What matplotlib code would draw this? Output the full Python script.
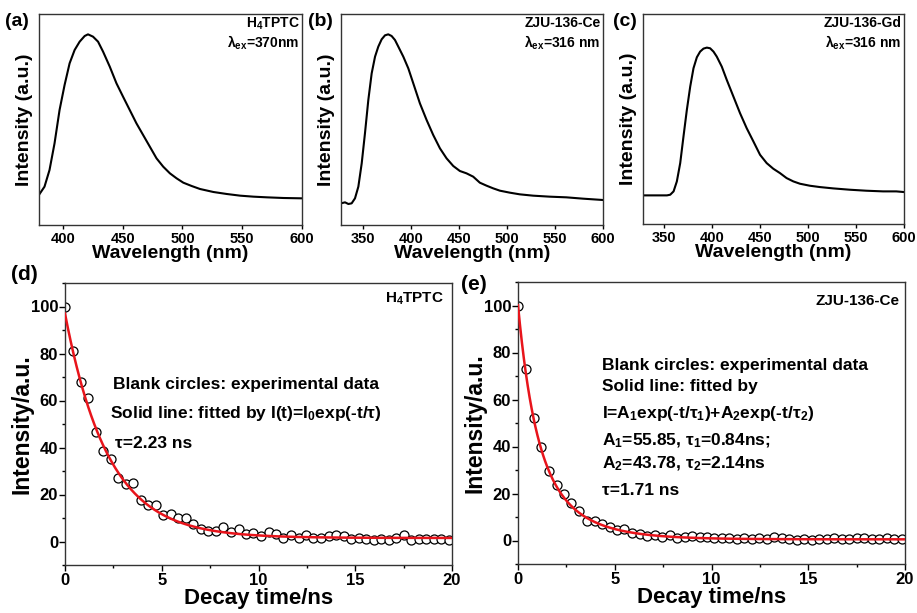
import numpy as np
import matplotlib
matplotlib.use("Agg")
import matplotlib.pyplot as plt
from matplotlib.ticker import MultipleLocator

plt.rcParams['font.family'] = ['Liberation Sans', 'DejaVu Sans']
plt.rcParams['font.weight'] = 'bold'
plt.rcParams['mathtext.fontset'] = 'custom'
plt.rcParams['mathtext.rm'] = 'Liberation Sans:bold'
plt.rcParams['mathtext.it'] = 'Liberation Sans:bold'
plt.rcParams['mathtext.bf'] = 'Liberation Sans:bold'

# ---------------- data ----------------
# (a) H4TPTC emission
wl_a = [379.9, 384.6, 388.8, 393.0, 397.2, 401.4, 405.6, 409.8, 414.0, 418.2, 421.0, 425.2,
        429.4, 433.6, 439.2, 444.8, 450.3, 455.9, 461.5, 467.1, 472.7, 478.3, 483.9, 489.5,
        495.1, 500.7, 507.7, 514.7, 525.9, 537.1, 548.3, 559.4, 570.6, 584.6, 600.0]
int_a = [90, 115, 165, 245, 345, 420, 485, 525, 550, 567, 572, 565, 550, 520, 475, 425, 385,
         345, 305, 270, 235, 200, 175, 155, 140, 127, 117, 108, 99, 93, 88, 85, 83, 81, 80]

# (b) ZJU-136-Ce emission
wl_b = [326.7, 330.9, 334.4, 337.8, 341.3, 344.8, 348.3, 351.7, 355.2, 358.7, 362.2, 365.6,
        369.1, 372.6, 376.0, 379.5, 383.0, 386.5, 391.7, 396.9, 402.1, 409.0, 416.0, 422.9,
        429.9, 436.8, 443.8, 450.7, 457.6, 464.6, 471.5, 478.5, 485.4, 492.4, 502.8, 513.2,
        527.1, 544.4, 561.8, 579.2, 600.0]
int_b = [65, 68, 63, 65, 80, 115, 185, 275, 375, 455, 505, 535, 557, 569, 572, 567, 555, 535,
         505, 470, 425, 365, 315, 270, 230, 200, 177, 162, 155, 145, 127, 118, 110, 103, 97,
         92, 88, 85, 83, 79, 75]

# (c) ZJU-136-Gd emission
wl_c = [328.6, 353.5, 356.9, 360.4, 363.8, 367.3, 370.7, 374.2, 377.7, 381.1, 384.6, 388.0,
        391.5, 395.0, 398.4, 401.9, 405.3, 410.5, 415.7, 422.6, 429.5, 436.4, 443.4, 450.3,
        457.2, 464.1, 471.0, 477.9, 484.9, 491.8, 502.1, 512.5, 526.3, 543.6, 560.9, 578.2,
        592.0, 600.0]
int_c = [86, 86, 88, 98, 128, 183, 263, 343, 413, 468, 501, 518, 527, 530, 528, 518, 503, 473,
         433, 383, 333, 288, 248, 208, 183, 166, 153, 138, 128, 121, 115, 111, 107, 103, 100,
         98, 98, 96]

# (d) H4TPTC decay (experimental points)
t_d = [0.0, 0.43, 0.81, 1.2, 1.6, 1.98, 2.38, 2.76, 3.15, 3.53, 3.93, 4.31, 4.7, 5.09, 5.47,
       5.86, 6.26, 6.64, 7.03, 7.41, 7.81, 8.19, 8.59, 8.97, 9.36, 9.74, 10.14, 10.52, 10.91,
       11.29, 11.69, 12.07, 12.47, 12.84, 13.24, 13.62, 14.02, 14.4, 14.79, 15.17, 15.57,
       15.95, 16.34, 16.72, 17.12, 17.5, 17.9, 18.28, 18.67, 19.05, 19.45, 19.83]
y_d = [100, 81, 68, 61, 46.5, 38.7, 35, 27.2, 24.4, 25, 17.6, 15.7, 15.4, 11.2, 11.8, 10.1,
       9.8, 7.6, 5.3, 4.5, 4.5, 6.2, 4.2, 5.2, 3.1, 3.8, 2.4, 4.2, 3.1, 1.4, 2.7, 1.7, 2.8,
       1.7, 1.4, 2.4, 2.8, 2.4, 1.1, 1.4, 1.1, 0.8, 1.1, 0.8, 1.4, 2.7, 0.8, 1.1, 1.1, 1.1,
       1.1, 0.6]
# fit parameters (d): single exponential
I0_d, tau_d, base_d = 95.5, 2.23, 1.5

# (e) ZJU-136-Ce decay (experimental points)
t_e = [0.0, 0.41, 0.83, 1.2, 1.62, 2.01, 2.36, 2.75, 3.17, 3.56, 3.96, 4.34, 4.73, 5.11,
       5.49, 5.89, 6.28, 6.66, 7.06, 7.44, 7.83, 8.21, 8.61, 8.98, 9.38, 9.76, 10.15, 10.53,
       10.93, 11.31, 11.7, 12.08, 12.48, 12.86, 13.25, 13.63, 14.03, 14.41, 14.8, 15.18,
       15.58, 15.96, 16.35, 16.73, 17.13, 17.5, 17.9, 18.28, 18.67, 19.05, 19.45, 19.83]
y_e = [100, 73, 52, 40, 29.7, 23.5, 19.9, 16.1, 12.6, 8.1, 8.1, 7.0, 5.9, 4.5, 4.8, 3.1, 2.8,
       2.1, 2.4, 1.4, 2.4, 1.1, 1.4, 2.0, 1.7, 1.4, 1.1, 1.1, 1.1, 0.7, 1.1, 0.7, 1.1, 0.7,
       1.7, 1.1, 0.7, 0.3, 0.7, 0.3, 0.7, 0.7, 1.1, 0.7, 0.7, 1.1, 1.1, 0.7, 0.7, 1.1, 0.7,
       0.7]
# fit parameters (e): bi-exponential
A1_e, tau1_e, A2_e, tau2_e, base_e = 55.85, 0.84, 43.78, 2.14, 0.5

# ---------------- figure ----------------
W, H = 917, 613
fig = plt.figure(figsize=(W / 100, H / 100), dpi=100)


def ax_px(l, t, r, b):
    return fig.add_axes([l / W, 1 - b / H, (r - l) / W, (b - t) / H])


spine_c = '#333333'


def style_top(ax):
    for s in ax.spines.values():
        s.set_color(spine_c)
        s.set_linewidth(1.0)
    ax.set_yticks([])
    ax.tick_params(axis='x', direction='out', length=3, width=1, colors='black',
                   labelsize=10.5, pad=2)
    for lab in ax.get_xticklabels():
        lab.set_fontweight('bold')
    ax.set_xlabel('Wavelength (nm)', fontsize=14, fontweight='bold', labelpad=-1)
    ax.set_ylabel('Intensity (a.u.)', fontsize=14, fontweight='bold', labelpad=4)


spectra = [
    (wl_a, int_a, (39, 14, 302, 225), (380, 600), 633, 'H$_4$TPTC', 'λ$_{ex}$=370nm', '(a)', (5, 22)),
    (wl_b, int_b, (341, 14, 603, 225), (326.7, 600), 633, 'ZJU-136-Ce', 'λ$_{ex}$=316 nm', '(b)', (308, 22)),
    (wl_c, int_c, (643, 14, 904, 224), (328.6, 600), 631, 'ZJU-136-Gd', 'λ$_{ex}$=316 nm', '(c)', (613, 22)),
]

for wl, inten, box, xl, ytop, name, lam, plab, ppos in spectra:
    ax = ax_px(*box)
    ax.plot(wl, inten, color='black', lw=1.5)
    ax.set_xlim(*xl)
    ax.set_ylim(0, ytop)
    ax.set_xticks([350, 400, 450, 500, 550, 600] if xl[0] < 350 else [400, 450, 500, 550, 600])
    style_top(ax)
    ax.text(0.99, 0.955, name, transform=ax.transAxes, ha='right', va='center',
            fontsize=10, fontweight='bold')
    ax.text(0.99, 0.865, lam, transform=ax.transAxes, ha='right', va='center',
            fontsize=10, fontweight='bold')
    fig.text(ppos[0] / W, 1 - ppos[1] / H, plab, ha='left', va='center',
             fontsize=14, fontweight='bold')


def style_bottom(ax):
    for s in ax.spines.values():
        s.set_color(spine_c)
        s.set_linewidth(1.0)
    ax.set_xlim(0, 20)
    ax.set_ylim(-10, 110)
    ax.xaxis.set_major_locator(MultipleLocator(5))
    ax.xaxis.set_minor_locator(MultipleLocator(2.5))
    ax.yaxis.set_major_locator(MultipleLocator(20))
    ax.yaxis.set_minor_locator(MultipleLocator(10))
    ax.tick_params(which='major', direction='out', length=4, width=1, labelsize=12, pad=1.5)
    ax.tick_params(which='minor', direction='out', length=2.5, width=1)
    ax.tick_params(axis='y', which='major', pad=1)
    for lab in ax.get_xticklabels() + ax.get_yticklabels():
        lab.set_fontweight('bold')
    ax.set_xlabel('Decay time/ns', fontsize=16, fontweight='bold', labelpad=0.5)
    ax.set_ylabel('Intensity/a.u.', fontsize=16.5, fontweight='bold', labelpad=-2)


# (d)
axd = ax_px(65, 283, 452, 565)
tt = np.linspace(0, 20, 400)
axd.plot(t_d, y_d, 'o', ms=6.5, mfc='white', mec='black', mew=0.9, zorder=2)
axd.plot(tt, I0_d * np.exp(-tt / tau_d) + base_d, color='#e8141b', lw=1.8, zorder=3)
style_bottom(axd)
axd.text(19.6, 103.4, 'H$_4$TPTC', ha='right', va='center', fontsize=11, fontweight='bold')
axd.text(2.48, 67, 'Blank circles: experimental data', ha='left', va='center',
         fontsize=12.5, fontweight='bold')
axd.text(2.33, 54.6, 'Solid line: fitted by I(t)=I$_0$exp(-t/τ)', ha='left', va='center',
         fontsize=12.5, fontweight='bold')
axd.text(2.6, 41.6, 'τ=2.23 ns', ha='left', va='center', fontsize=12.5, fontweight='bold')
fig.text(11 / W, 1 - 274 / H, '(d)', ha='left', va='center', fontsize=15, fontweight='bold')

# (e)
axe = ax_px(518, 282, 905, 564)
axe.plot(t_e, y_e, 'o', ms=6.5, mfc='white', mec='black', mew=0.9, zorder=2)
axe.plot(tt, A1_e * np.exp(-tt / tau1_e) + A2_e * np.exp(-tt / tau2_e) + base_e,
         color='#e8141b', lw=1.8, zorder=3)
style_bottom(axe)
axe.text(19.7, 102, 'ZJU-136-Ce', ha='right', va='center', fontsize=11, fontweight='bold')
lines_e = [
    (74.4, 'Blank circles: experimental data'),
    (65.5, 'Solid line: fitted by'),
    (54.2, 'I=A$_1$exp(-t/τ$_1$)+A$_2$exp(-t/τ$_2$)'),
    (42.4, 'A$_1$=55.85, τ$_1$=0.84ns;'),
    (32.7, 'A$_2$=43.78, τ$_2$=2.14ns'),
    (21.4, 'τ=1.71 ns'),
]
for yy, s in lines_e:
    axe.text(4.34, yy, s, ha='left', va='center', fontsize=12.5, fontweight='bold')
fig.text(461 / W, 1 - 285 / H, '(e)', ha='left', va='center', fontsize=15, fontweight='bold')

fig.savefig('out.png', dpi=100)
